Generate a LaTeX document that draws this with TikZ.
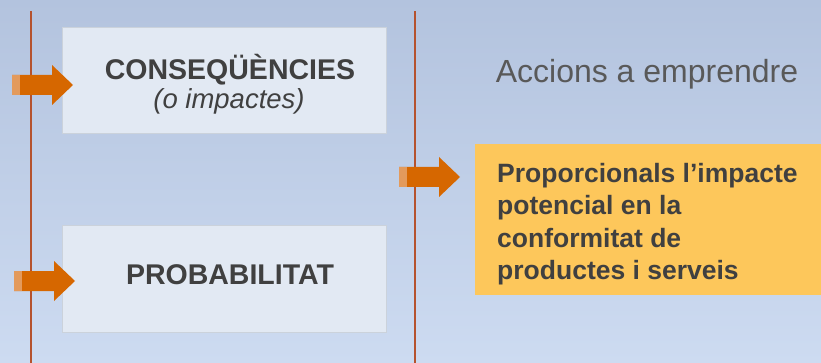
\documentclass[tikz,border=0pt]{standalone}
\usepackage{fontspec}
\setmainfont{Liberation Sans}
\usetikzlibrary{calc}
\definecolor{bgtop}{HTML}{B3C3DE}
\definecolor{bgbottom}{HTML}{CDDBF1}
\definecolor{boxpale}{HTML}{E2E9F3}
\definecolor{boxorange}{HTML}{FDC75B}
\definecolor{rulered}{HTML}{B5522E}
\definecolor{arroworange}{HTML}{D66700}
\definecolor{arrowlight}{HTML}{E39A5C}
\definecolor{textgray}{HTML}{404040}
\definecolor{titlegray}{HTML}{595959}
\def\blockarrow(#1){\fill[arroworange] ($(#1)+(-61,-10)$) -- ($(#1)+(-21,-10)$) -- ($(#1)+(-21,-20)$) -- (#1) -- ($(#1)+(-21,20)$) -- ($(#1)+(-21,10)$) -- ($(#1)+(-61,10)$) -- cycle; \fill[arrowlight] ($(#1)+(-61,-10)$) rectangle ($(#1)+(-53,10)$);}

\begin{document}
\begin{tikzpicture}[x=1pt, y=-1pt,
		factorbox/.style={fill=boxpale, draw=boxpale!90!black, line width=0.3pt, inner sep=0pt, minimum width=324pt},
		boldlabel/.style={font=\fontsize{28.5}{34}\selectfont\bfseries, text=textgray},
		ruleline/.style={line width=1.5pt, color=rulered}]
		%%%%% START %%%%%
		
		\useasboundingbox (0, 0) rectangle (821, 363);
		\shade[top color=bgtop, bottom color=bgbottom] (0, 0) rectangle (821, 363);
		
		\node[factorbox, minimum height=106pt, anchor=north west] (conseq) at (62, 27) {};
		\node[factorbox, minimum height=107pt, anchor=north west] (prob) at (62, 225) {};
		\node[fill=boxorange, inner sep=0pt, minimum width=346pt, minimum height=151pt, anchor=north west] (action) at (475, 144) {};
		
		\draw[ruleline] (31, 11) -- (31, 363);
		\draw[ruleline] (415, 11) -- (415, 363);
		
		\blockarrow(73, 85)
		\blockarrow(460, 177)
		\blockarrow(75, 281)
		
		\node[boldlabel] (conseqtitle) at (230, 70) {CONSEQÜÈNCIES};
		\node[font=\fontsize{27.5}{32}\selectfont\itshape, text=textgray] (conseqsub) at (229, 101) {(o impactes)};
		\node[boldlabel] (probtitle) at (230, 275) {PROBABILITAT};
		
		\node[font=\fontsize{32}{38}\selectfont, text=titlegray] (actionhead) at (647, 74) {Accions a emprendre};
		\node[font=\fontsize{26.5}{32.5}\selectfont\bfseries, text=textgray, align=left, inner sep=0pt, anchor=north west] (actiontext) at (497, 163)
			{Proporcionals l’impacte\\potencial en la\\conformitat de\\productes i serveis};
		
		%%%%% END %%%%%
	\end{tikzpicture}
\end{document}
